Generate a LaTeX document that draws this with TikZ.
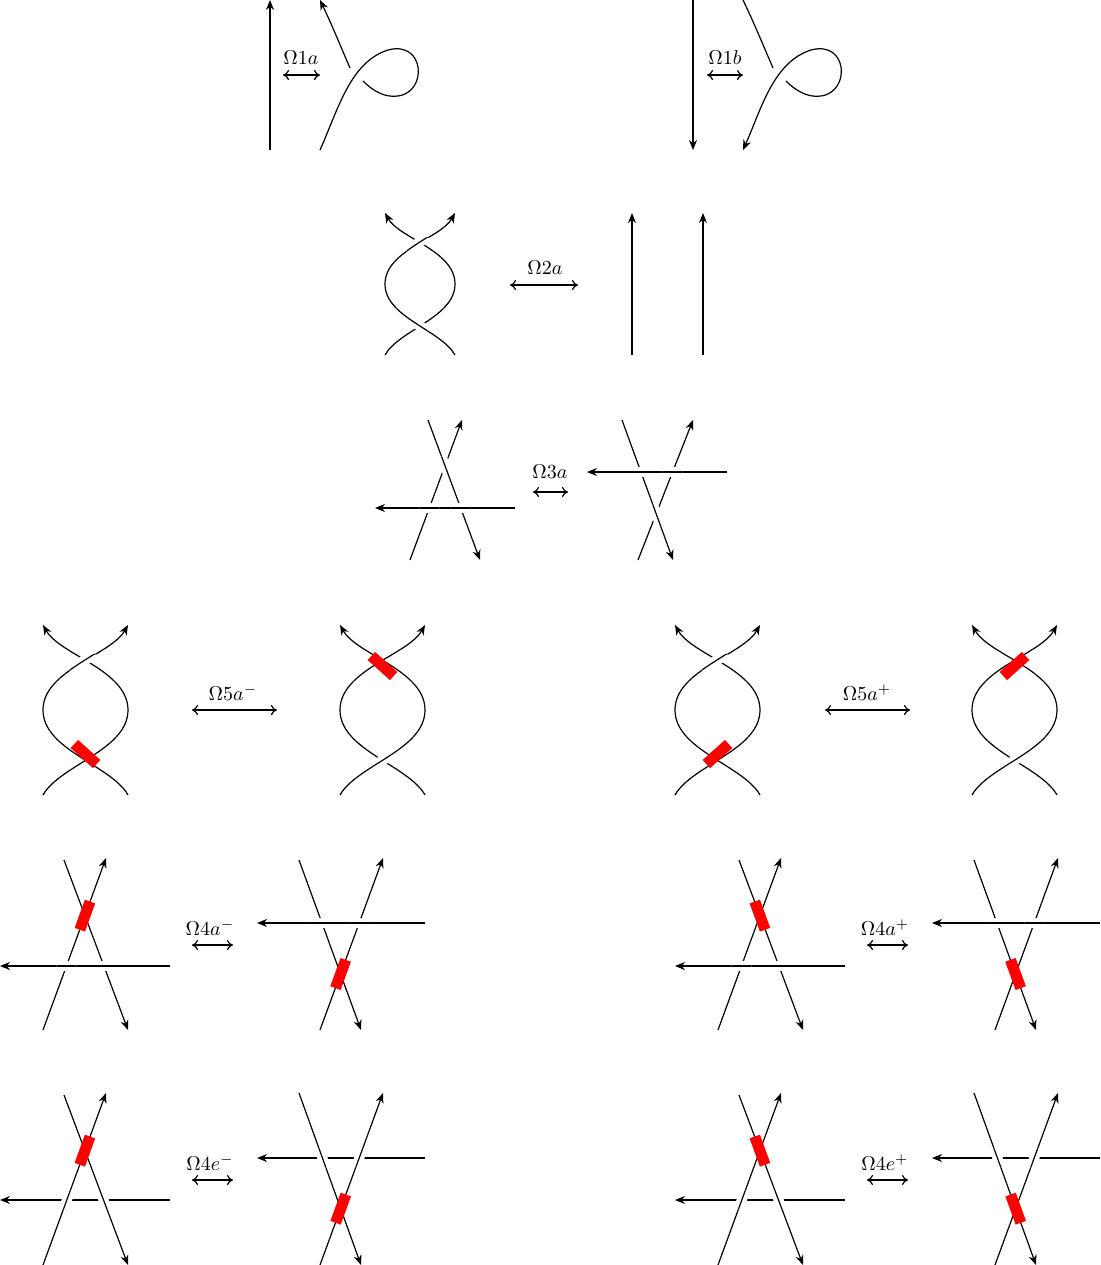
\documentclass[tikz,border=0pt]{standalone}
\usetikzlibrary{arrows.meta}
\tikzset{
  knot/.style={line width=0.6pt},
  tip/.style={-{Stealth[length=5pt,width=4pt,inset=1.6pt]}},
  move/.style={line width=0.6pt,{To[length=3pt,width=5pt]}-{To[length=3pt,width=5pt]}},
  halo/.style={white,line width=5pt},
  redbox/.style={fill=red,inner sep=0pt,minimum width=15pt,minimum height=5.5pt},
  lbl/.style={inner sep=0pt}
}
\newcommand\ovr[5]{\begin{scope}\clip (intersection of #1--#2 and #3--#4) circle (#5);
 \draw[halo] (#1)--(#2); \draw[knot] (#1)--(#2);\end{scope}}
\newcommand\Sone{(85,170) .. controls (68,140) and (0,125) .. (0,85) .. controls (0,45) and (68,30) .. (85,0)}
\newcommand\Stwo{(0,170) .. controls (17,140) and (85,125) .. (85,85) .. controls (85,45) and (17,30) .. (0,0)}
\begin{document}
\begin{tikzpicture}[x=0.5pt,y=-0.5pt]
\useasboundingbox (0,0) rectangle (1101,1265);
% ---------- Omega 1a ----------
\draw[knot,tip] (270,150) -- (270,0);
\node[lbl] (l1a) at (301,58) {$\Omega 1a$};
\draw[move] (283,75) -- (320,75);
\draw[knot] (320,150) .. controls (338,110) and (350,62) .. (388,50) .. controls (425,40) and (428,92) .. (398,96) .. controls (384,98) and (372,90) .. (363,81);
\draw[knot,tip] (350,68) .. controls (340,45) and (332,25) .. (320,0);
% ---------- Omega 1b ----------
\draw[knot,tip] (693,0) -- (693,150);
\node[lbl] (l1b) at (725,58) {$\Omega 1b$};
\draw[move] (707,75) -- (743,75);
\draw[knot,tip] (786,81) .. controls (795,90) and (807,98) .. (821,96) .. controls (851,92) and (848,40) .. (811,50) .. controls (773,62) and (761,110) .. (743,150);
\draw[knot] (773,68) .. controls (763,45) and (755,25) .. (743,0);
% ---------- Omega 2a ----------
\begin{scope}[shift={(385,213)},xscale=70/85,yscale=142/170]
 \draw[knot,tip] \Sone; \draw[knot,tip] \Stwo;
 \begin{scope}\clip (42.5,42) circle (16); \draw[halo] \Sone; \draw[knot] \Sone; \end{scope}
 \begin{scope}\clip (42.5,128) circle (16); \draw[halo] \Sone; \draw[knot] \Sone; \end{scope}
\end{scope}
\node[lbl] (l2a) at (545,268) {$\Omega 2a$};
\draw[move] (510,285) -- (578,285);
\draw[knot,tip] (632,355) -- (632,213);
\draw[knot,tip] (703,355) -- (703,213);
% ---------- Omega 3a ----------
\coordinate (a1) at (428,420); \coordinate (a2) at (480,560);
\coordinate (b1) at (410,560); \coordinate (b2) at (462,420);
\coordinate (h1) at (515,508); \coordinate (h2) at (375,508);
\draw[knot,tip] (b1)--(b2); \draw[knot,tip] (a1)--(a2); \draw[knot,tip] (h1)--(h2);
\ovr{a1}{a2}{b1}{b2}{10}
\ovr{h1}{h2}{a1}{a2}{10}
\ovr{h1}{h2}{b1}{b2}{10}
\node[lbl] (l3a) at (550,472) {$\Omega 3a$};
\draw[move] (533,492) -- (568,492);
\coordinate (c1) at (622,420); \coordinate (c2) at (673,560);
\coordinate (d1) at (638,560); \coordinate (d2) at (693,420);
\coordinate (g1) at (727,472); \coordinate (g2) at (587,472);
\draw[knot,tip] (d1)--(d2); \draw[knot,tip] (c1)--(c2); \draw[knot,tip] (g1)--(g2);
\ovr{c1}{c2}{d1}{d2}{10}
\ovr{g1}{g2}{c1}{c2}{10}
\ovr{g1}{g2}{d1}{d2}{10}
% ---------- Omega 5 ----------
\foreach \px/\ang in {43/-42, 675/42}{
\begin{scope}[shift={(\px,625)}]
 \draw[knot,tip] \Sone; \draw[knot,tip] \Stwo;
 \begin{scope}\clip (42.5,42) circle (16); \draw[halo] \Sone; \draw[knot] \Sone; \end{scope}
 \node[redbox,rotate=\ang] at (42.5,129) {};
\end{scope}}
\foreach \px/\ang in {340/-42, 972/42}{
\begin{scope}[shift={(\px,625)}]
 \draw[knot,tip] \Sone; \draw[knot,tip] \Stwo;
 \begin{scope}\clip (42.5,128) circle (16); \draw[halo] \Stwo; \draw[knot] \Stwo; \end{scope}
 \node[redbox,rotate=\ang] at (42.5,41) {};
\end{scope}}
\node[lbl] (l5m) at (233,693) {$\Omega 5a^{-}$};
\draw[move] (192,710) -- (277,710);
\node[lbl] (l5p) at (867,693) {$\Omega 5a^{+}$};
\draw[move] (825,710) -- (910,710);
% ---------- Omega 4 ----------
\foreach \dx/\ang/\s in {0/70/-, 675/-70/+}{
\begin{scope}[shift={(\dx,0)}]
 \coordinate (A1) at (64,860); \coordinate (A2) at (128,1030);
 \coordinate (B1) at (43,1030); \coordinate (B2) at (106,858);
 \coordinate (H1) at (170,966); \coordinate (H2) at (0,966);
 \draw[knot,tip] (A1)--(A2); \draw[knot,tip] (B1)--(B2); \draw[knot,tip] (H1)--(H2);
 \ovr{H1}{H2}{A1}{A2}{10} \ovr{H1}{H2}{B1}{B2}{10}
 \node[redbox,rotate=\ang] at (intersection of A1--A2 and B1--B2) {};
 \coordinate (A1) at (299,860); \coordinate (A2) at (361,1030);
 \coordinate (B1) at (320,1030); \coordinate (B2) at (383,858);
 \coordinate (H1) at (425,923); \coordinate (H2) at (257,923);
 \draw[knot,tip] (A1)--(A2); \draw[knot,tip] (B1)--(B2); \draw[knot,tip] (H1)--(H2);
 \ovr{H1}{H2}{A1}{A2}{10} \ovr{H1}{H2}{B1}{B2}{10}
 \node[redbox,rotate=\ang] at (intersection of A1--A2 and B1--B2) {};
 \node[lbl] at (210,928) {$\Omega 4a^{\s}$};
 \draw[move] (192,945) -- (233,945);
 \coordinate (A1) at (64,1095); \coordinate (A2) at (128,1265);
 \coordinate (B1) at (43,1265); \coordinate (B2) at (106,1093);
 \coordinate (H1) at (170,1200); \coordinate (H2) at (0,1200);
 \draw[knot,tip] (H1)--(H2); \draw[knot,tip] (A1)--(A2); \draw[knot,tip] (B1)--(B2);
 \ovr{A1}{A2}{H1}{H2}{10} \ovr{B1}{B2}{H1}{H2}{10}
 \node[redbox,rotate=\ang] at (intersection of A1--A2 and B1--B2) {};
 \coordinate (A1) at (299,1093); \coordinate (A2) at (361,1265);
 \coordinate (B1) at (320,1265); \coordinate (B2) at (383,1093);
 \coordinate (H1) at (425,1158); \coordinate (H2) at (257,1158);
 \draw[knot,tip] (H1)--(H2); \draw[knot,tip] (A1)--(A2); \draw[knot,tip] (B1)--(B2);
 \ovr{A1}{A2}{H1}{H2}{10} \ovr{B1}{B2}{H1}{H2}{10}
 \node[redbox,rotate=\ang] at (intersection of A1--A2 and B1--B2) {};
 \node[lbl] at (210,1163) {$\Omega 4e^{\s}$};
 \draw[move] (192,1180) -- (233,1180);
\end{scope}}
\end{tikzpicture}
\end{document}
